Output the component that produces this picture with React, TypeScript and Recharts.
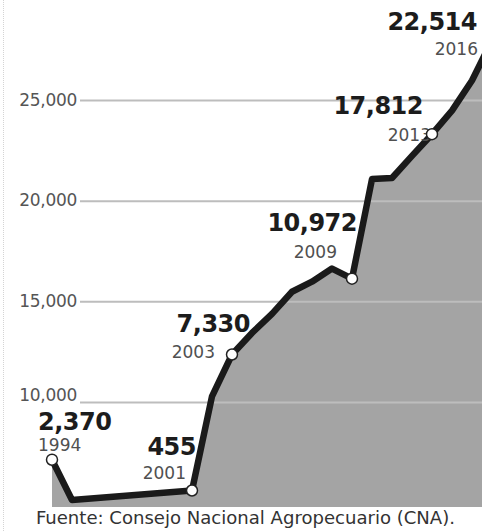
import { ComposedChart, Area, Line, XAxis, YAxis, ReferenceLine } from "recharts";

// line as drawn (chart units)
const YEARS = [1994, 1995, 2001, 2002, 2003, 2004, 2005, 2006, 2007, 2008, 2009, 2010, 2011, 2012, 2013, 2014, 2015, 2016];
const VALUES = [7150, 5150, 5620, 10300, 12380, 13450, 14400, 15500, 16000, 16650, 16150, 21100, 21150, 22250, 23330, 24500, 26000, 28000];

// annotated points
const LABEL_YEARS = [1994, 2001, 2003, 2009, 2013, 2016];
const LABEL_VALUES = ["2,370", "455", "7,330", "10,972", "17,812", "22,514"];

const Y_TICKS = [10000, 15000, 20000, 25000];
const Y_TICK_LABELS = ["10,000", "15,000", "20,000", "25,000"];

const SOURCE = "Fuente: Consejo Nacional Agropecuario (CNA).";

const data = YEARS.map((year, i) => ({ year, v: VALUES[i] }));

// label placement relative to each dot: [value dx, value dy, year dx, year dy, anchor]
const LABEL_POS: Record<number, [number, number, number, number, "start" | "end"]> = {
    1994: [-14, -30, -14, -9, "start"],
    2001: [4, -36, -6, -12, "end"],
    2003: [18, -22, -17, 4, "end"],
    2009: [5, -48, -15, -21, "end"],
    2013: [-9, -20, -1, 7, "end"],
    2016: [-15, -10, -14, 15, "end"],
};

const renderDot = (props: any) => {
    const { cx, cy, payload, index } = props;
    const li = LABEL_YEARS.indexOf(payload.year);
    if (li < 0) return <g key={`dot-${index}`} />;
    const [vdx, vdy, ydx, ydy, anchor] = LABEL_POS[payload.year];
    return (
        <g key={`dot-${index}`}>
            <text
                x={cx + vdx}
                y={cy + vdy}
                textAnchor={anchor}
                fontFamily="DejaVu Sans"
                fontWeight="bold"
                fontSize={24}
                letterSpacing={-0.5}
                fill="#1c1c1c"
            >
                {LABEL_VALUES[li]}
            </text>
            <text
                x={cx + ydx}
                y={cy + ydy}
                textAnchor={anchor}
                fontFamily="DejaVu Sans"
                fontSize={17}
                fill="#505050"
            >
                {payload.year}
            </text>
            <circle cx={cx} cy={cy} r={5.5} fill="#fff" stroke="#222" strokeWidth={1.5} />
        </g>
    );
};

const gridShape = (label: string, dy: number) => (p: any) => (
    <g>
        <line x1={80} y1={p.y1} x2={482} y2={p.y2} stroke="#bdbdbd" strokeWidth={2} />
        <text
            x={77}
            y={p.y1 + dy}
            textAnchor="end"
            dominantBaseline="central"
            fontFamily="DejaVu Sans"
            fontSize={17}
            letterSpacing={-0.3}
            fill="#555"
        >
            {label}
        </text>
    </g>
);

export default function App() {
    return (
        <div style={{ position: "relative", width: 482, height: 531, overflow: "hidden", background: "#fff" }}>
            <style>{`body{margin:0}`}</style>
            <div style={{ position: "absolute", left: 3, top: 0, height: 531, borderLeft: "1px dotted #d4d4d4" }} />
            <ComposedChart width={500} height={531} data={data} margin={{ top: 0, right: 8, left: 52, bottom: 24 }}>
                <XAxis dataKey="year" type="number" domain={[1994, 2016]} hide />
                <YAxis type="number" domain={[4800, 30000]} allowDataOverflow hide />
                <Area
                    dataKey="v"
                    type="linear"
                    stroke="none"
                    fill="#a4a4a4"
                    fillOpacity={1}
                    isAnimationActive={false}
                />
                {Y_TICKS.map((t, i) => (
                    <ReferenceLine key={t} y={t} shape={gridShape(Y_TICK_LABELS[i], i === 0 ? -7 : -1)} zIndex={150} />
                ))}
                <Line
                    dataKey="v"
                    type="linear"
                    stroke="#1a1a1a"
                    strokeWidth={6.5}
                    strokeLinejoin="round"
                    dot={renderDot}
                    activeDot={false}
                    isAnimationActive={false}
                />
            </ComposedChart>
            <svg width={482} height={531} style={{ position: "absolute", left: 0, top: 0, pointerEvents: "none" }}>
                <text
                    x={36}
                    y={524}
                    textLength={419}
                    lengthAdjust="spacingAndGlyphs"
                    fontFamily="DejaVu Sans Condensed, DejaVu Sans"
                    fontSize={18}
                    fill="#333"
                >
                    {SOURCE}
                </text>
            </svg>
        </div>
    );
}
